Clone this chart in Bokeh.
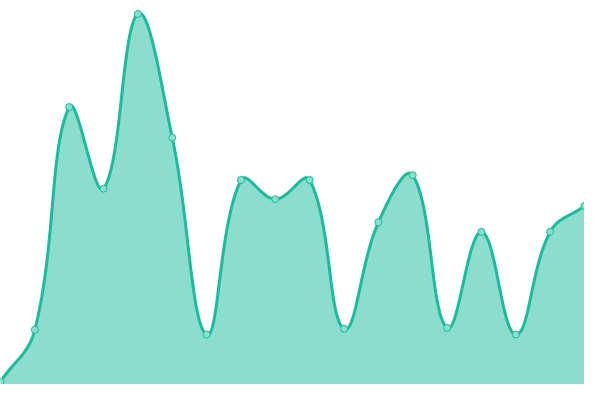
import numpy as np
from bokeh.plotting import figure
from bokeh.models import Range1d, ColumnDataSource
from bokeh.embed import file_html
from bokeh.resources import INLINE

# data (one value per category)
categories = list(range(18))
values = [3, 57, 289, 204, 386, 257, 52, 213, 193, 213, 58, 169, 218, 59, 159, 52, 159, 186]

W, H = 584, 384
Y_MAX = 400
TENSION = 0.4

p = figure(width=W, height=H, output_backend="svg", toolbar_location=None,
           x_range=Range1d(0, len(categories) - 1), y_range=Range1d(0, Y_MAX),
           min_border=0, outline_line_color=None, background_fill_color="white",
           border_fill_color="white")
p.axis.visible = False
p.grid.visible = False

# Chart.js-style spline (tension 0.4) computed in pixel space
sx = W / (len(categories) - 1)
sy = H / Y_MAX
px = np.array(categories, dtype=float) * sx
py = np.array(values, dtype=float) * sy
n = len(px)
cp_prev = np.zeros((n, 2))
cp_next = np.zeros((n, 2))
for i in range(n):
    cur = np.array([px[i], py[i]])
    prv = np.array([px[i - 1], py[i - 1]]) if i > 0 else cur
    nxt = np.array([px[i + 1], py[i + 1]]) if i < n - 1 else cur
    d01 = np.hypot(*(cur - prv))
    d12 = np.hypot(*(nxt - cur))
    tot = d01 + d12
    s01 = d01 / tot if tot else 0
    s12 = d12 / tot if tot else 0
    fa = TENSION * s01
    fb = TENSION * s12
    cp_prev[i] = cur - fa * (nxt - prv)
    cp_next[i] = cur + fb * (nxt - prv)
# cap to chart area
cp_prev[:, 0] = np.clip(cp_prev[:, 0], 0, W); cp_prev[:, 1] = np.clip(cp_prev[:, 1], 0, H)
cp_next[:, 0] = np.clip(cp_next[:, 0], 0, W); cp_next[:, 1] = np.clip(cp_next[:, 1], 0, H)

xs, ys = [], []
t = np.linspace(0, 1, 40)
for i in range(n - 1):
    P0 = np.array([px[i], py[i]]); P1 = cp_next[i]; P2 = cp_prev[i + 1]; P3 = np.array([px[i + 1], py[i + 1]])
    tt = t if i == 0 else t[1:]
    b = ((1 - tt) ** 3)[:, None] * P0 + (3 * (1 - tt) ** 2 * tt)[:, None] * P1 + \
        (3 * (1 - tt) * tt ** 2)[:, None] * P2 + (tt ** 3)[:, None] * P3
    xs.extend(b[:, 0] / sx); ys.extend(b[:, 1] / sy)

curve = ColumnDataSource(dict(x=xs, y=ys, y0=[0] * len(xs)))
p.varea(x="x", y1="y0", y2="y", source=curve, fill_color="#1abc9c", fill_alpha=0.5)
p.line(x="x", y="y", source=curve, line_color="#1abc9c", line_width=3)
p.scatter(x=categories, y=values, size=7, fill_color="#8ae0d0", line_color="#1abc9c",
          line_width=1)

open("out.html", "w").write(file_html(p, INLINE))
